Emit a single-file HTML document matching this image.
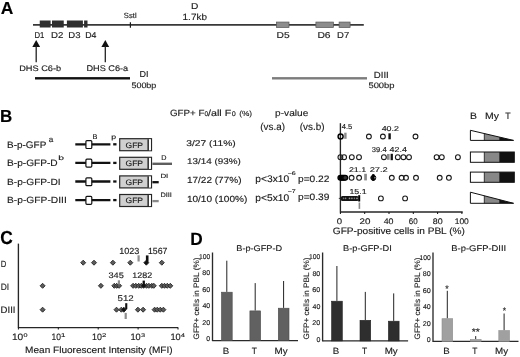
<!DOCTYPE html>
<html><head><meta charset="utf-8"><style>
html,body{margin:0;padding:0;background:#fff;width:520px;height:357px;overflow:hidden}
svg{display:block;will-change:transform}
text{font-family:"Liberation Sans",sans-serif;text-rendering:geometricPrecision}
</style></head><body>
<svg width="520" height="357" viewBox="0 0 520 357">
<rect width="520" height="357" fill="#fff"/>
<text transform="translate(1.10,13.80) scale(1.006,1)" x="-0.27" y="0" font-size="17.35" fill="#000" stroke="#000" stroke-width="0.14" font-weight="bold">A</text>
<line x1="33.00" y1="24.85" x2="363.80" y2="24.85" stroke="#383838" stroke-width="1.8" />
<rect x="39.75" y="20.50" width="10.85" height="7.00" fill="#2e2e2e" />
<rect x="52.00" y="20.50" width="11.75" height="7.00" fill="#2e2e2e" />
<rect x="66.90" y="20.50" width="16.00" height="7.00" fill="#2e2e2e" />
<rect x="84.10" y="20.50" width="3.40" height="7.00" fill="#2e2e2e" />
<line x1="130.40" y1="22.20" x2="130.40" y2="27.80" stroke="#1a1a1a" stroke-width="1.2" />
<rect x="276.40" y="22.05" width="12.60" height="5.50" fill="#8c8c8c" stroke="#555" stroke-width="0.7" />
<rect x="315.90" y="22.05" width="17.50" height="5.50" fill="#8c8c8c" stroke="#555" stroke-width="0.7" />
<rect x="339.10" y="22.05" width="11.00" height="5.50" fill="#8c8c8c" stroke="#555" stroke-width="0.7" />
<text transform="translate(35.10,38.00) scale(0.909,1)" x="-0.67" y="0" font-size="8.53" fill="#1a1a1a" stroke="#1a1a1a" stroke-width="0.14">D1</text>
<text transform="translate(51.80,38.00) scale(1.132,1)" x="-0.67" y="0" font-size="8.53" fill="#1a1a1a" stroke="#1a1a1a" stroke-width="0.14">D2</text>
<text transform="translate(69.00,38.00) scale(1.122,1)" x="-0.67" y="0" font-size="8.53" fill="#1a1a1a" stroke="#1a1a1a" stroke-width="0.14">D3</text>
<text transform="translate(85.90,38.00) scale(1.027,1)" x="-0.67" y="0" font-size="8.53" fill="#1a1a1a" stroke="#1a1a1a" stroke-width="0.14">D4</text>
<text transform="translate(277.40,38.00) scale(1.203,1)" x="-0.67" y="0" font-size="8.53" fill="#1a1a1a" stroke="#1a1a1a" stroke-width="0.14">D5</text>
<text transform="translate(318.20,38.00) scale(1.213,1)" x="-0.67" y="0" font-size="8.53" fill="#1a1a1a" stroke="#1a1a1a" stroke-width="0.14">D6</text>
<text transform="translate(337.80,38.00) scale(1.112,1)" x="-0.67" y="0" font-size="8.53" fill="#1a1a1a" stroke="#1a1a1a" stroke-width="0.14">D7</text>
<text transform="translate(124.10,17.50) scale(1.011,1)" x="-0.24" y="0" font-size="7.54" fill="#1a1a1a" stroke="#1a1a1a" stroke-width="0.14">SstI</text>
<text transform="translate(191.80,8.60) scale(1.192,1)" x="-0.67" y="0" font-size="8.53" fill="#1a1a1a" stroke="#1a1a1a" stroke-width="0.14">D</text>
<text transform="translate(183.20,19.60) scale(1.106,1)" x="-0.56" y="0" font-size="8.99" fill="#1a1a1a" stroke="#1a1a1a" stroke-width="0.14">1.7kb</text>
<path d="M36.2 40.0 L32.300000000000004 46.9 L40.1 46.9 Z" fill="#111" />
<line x1="36.20" y1="46.00" x2="36.20" y2="62.20" stroke="#222" stroke-width="1.3" />
<path d="M105.3 40.0 L101.39999999999999 46.9 L109.2 46.9 Z" fill="#111" />
<line x1="105.30" y1="46.00" x2="105.30" y2="62.20" stroke="#222" stroke-width="1.3" />
<text transform="translate(19.90,70.90) scale(1.150,1)" x="-0.63" y="0" font-size="8.03" fill="#1a1a1a" stroke="#1a1a1a" stroke-width="0.14">DHS C6-b</text>
<text transform="translate(87.10,70.90) scale(1.111,1)" x="-0.64" y="0" font-size="8.25" fill="#1a1a1a" stroke="#1a1a1a" stroke-width="0.14">DHS C6-a</text>
<rect x="35.00" y="77.10" width="95.00" height="2.40" fill="#111" />
<rect x="272.00" y="77.10" width="95.00" height="2.40" fill="#7c7c7c" />
<text transform="translate(140.10,77.40) scale(1.040,1)" x="-0.68" y="0" font-size="8.68" fill="#1a1a1a" stroke="#1a1a1a" stroke-width="0.14">DI</text>
<text transform="translate(131.70,88.20) scale(1.136,1)" x="-0.25" y="0" font-size="7.90" fill="#1a1a1a" stroke="#1a1a1a" stroke-width="0.14">500bp</text>
<text transform="translate(374.50,77.50) scale(1.095,1)" x="-0.69" y="0" font-size="8.82" fill="#1a1a1a" stroke="#1a1a1a" stroke-width="0.14">DIII</text>
<text transform="translate(368.70,88.20) scale(1.192,1)" x="-0.25" y="0" font-size="7.90" fill="#1a1a1a" stroke="#1a1a1a" stroke-width="0.14">500bp</text>
<text transform="translate(1.10,121.60) scale(0.970,1)" x="-1.09" y="0" font-size="17.49" fill="#000" stroke="#000" stroke-width="0.14" font-weight="bold">B</text>
<text transform="translate(170.40,116.00) scale(1.074,1)" x="-0.43" y="0" font-size="9.10" fill="#1a1a1a" stroke="#1a1a1a" stroke-width="0.14">GFP+ F</text>
<text transform="translate(204.60,116.00) scale(0.987,1)" x="-0.21" y="0" font-size="6.68" fill="#1a1a1a" stroke="#1a1a1a" stroke-width="0.14">0</text>
<text transform="translate(208.10,116.00) scale(1.207,1)" x="0.00" y="0" font-size="8.85" fill="#1a1a1a" stroke="#1a1a1a" stroke-width="0.14">/all F</text>
<text transform="translate(231.90,116.00) scale(1.077,1)" x="-0.21" y="0" font-size="6.68" fill="#1a1a1a" stroke="#1a1a1a" stroke-width="0.14">0</text>
<text transform="translate(239.50,116.20) scale(1.130,1)" x="-0.34" y="0" font-size="7.35" fill="#1a1a1a" stroke="#1a1a1a" stroke-width="0.14">(%)</text>
<text transform="translate(275.70,116.30) scale(1.128,1)" x="-0.56" y="0" font-size="8.99" fill="#1a1a1a" stroke="#1a1a1a" stroke-width="0.14">p-value</text>
<text transform="translate(260.80,130.10) scale(0.993,1)" x="-0.47" y="0" font-size="9.94" fill="#1a1a1a" stroke="#1a1a1a" stroke-width="0.14">(vs.a)</text>
<text transform="translate(300.20,130.10) scale(1.001,1)" x="-0.47" y="0" font-size="9.94" fill="#1a1a1a" stroke="#1a1a1a" stroke-width="0.14">(vs.b)</text>
<text transform="translate(7.80,148.00) scale(1.045,1)" x="-0.74" y="0" font-size="9.53" fill="#1a1a1a" stroke="#1a1a1a" stroke-width="0.14">B-p-GFP</text>
<text transform="translate(7.80,166.10) scale(1.096,1)" x="-0.72" y="0" font-size="9.24" fill="#1a1a1a" stroke="#1a1a1a" stroke-width="0.14">B-p-GFP-D</text>
<text transform="translate(7.80,184.80) scale(1.118,1)" x="-0.71" y="0" font-size="9.10" fill="#1a1a1a" stroke="#1a1a1a" stroke-width="0.14">B-p-GFP-DI</text>
<text transform="translate(7.80,203.30) scale(1.127,1)" x="-0.71" y="0" font-size="9.10" fill="#1a1a1a" stroke="#1a1a1a" stroke-width="0.14">B-p-GFP-DIII</text>
<text transform="translate(49.00,141.60) scale(1.029,1)" x="-0.25" y="0" font-size="7.86" fill="#1a1a1a" stroke="#1a1a1a" stroke-width="0.14">a</text>
<text transform="translate(58.90,159.60) scale(1.621,1)" x="-0.40" y="0" font-size="6.40" fill="#1a1a1a" stroke="#1a1a1a" stroke-width="0.14">b</text>
<text transform="translate(186.60,146.20) scale(1.236,1)" x="-0.26" y="0" font-size="8.31" fill="#1a1a1a" stroke="#1a1a1a" stroke-width="0.14">3/27 (11%)</text>
<text transform="translate(187.50,164.20) scale(1.192,1)" x="-0.52" y="0" font-size="8.31" fill="#1a1a1a" stroke="#1a1a1a" stroke-width="0.14">13/14 (93%)</text>
<text transform="translate(187.50,182.90) scale(1.133,1)" x="-0.55" y="0" font-size="8.85" fill="#1a1a1a" stroke="#1a1a1a" stroke-width="0.14">17/22 (77%)</text>
<text transform="translate(187.50,201.60) scale(1.138,1)" x="-0.55" y="0" font-size="8.85" fill="#1a1a1a" stroke="#1a1a1a" stroke-width="0.14">10/10 (100%)</text>
<text transform="translate(256.00,182.40) scale(1.056,1)" x="-0.60" y="0" font-size="9.67" fill="#1a1a1a" stroke="#1a1a1a" stroke-width="0.14">p&lt;3x10</text>
<text transform="translate(298.60,182.20) scale(1.086,1)" x="-0.59" y="0" font-size="9.39" fill="#1a1a1a" stroke="#1a1a1a" stroke-width="0.14">p=0.22</text>
<text transform="translate(256.00,200.60) scale(1.056,1)" x="-0.60" y="0" font-size="9.67" fill="#1a1a1a" stroke="#1a1a1a" stroke-width="0.14">p&lt;5x10</text>
<text transform="translate(298.60,200.40) scale(1.086,1)" x="-0.59" y="0" font-size="9.39" fill="#1a1a1a" stroke="#1a1a1a" stroke-width="0.14">p=0.39</text>
<text transform="translate(288.00,174.72) scale(1.365,1)" x="-0.24" y="0" font-size="5.15" fill="#1a1a1a" stroke="#1a1a1a" stroke-width="0.14">−6</text>
<text transform="translate(288.00,193.10) scale(1.301,1)" x="-0.25" y="0" font-size="5.40" fill="#1a1a1a" stroke="#1a1a1a" stroke-width="0.14">−7</text>
<line x1="75.30" y1="144.30" x2="110.40" y2="144.30" stroke="#111" stroke-width="2.3" />
<rect x="85.90" y="140.60" width="5.90" height="7.90" fill="#fff" stroke="#111" stroke-width="1.2" rx="1"/>
<line x1="113.20" y1="144.30" x2="116.50" y2="144.30" stroke="#111" stroke-width="2.3" />
<rect x="119.70" y="138.70" width="31.80" height="12.00" fill="#d0d0d0" stroke="#262626" stroke-width="1.2" />
<rect x="147.50" y="139.30" width="1.40" height="11.00" fill="#111" />
<rect x="148.90" y="139.30" width="2.00" height="11.00" fill="#fff" />
<line x1="75.30" y1="162.90" x2="110.40" y2="162.90" stroke="#111" stroke-width="2.3" />
<rect x="85.90" y="159.20" width="5.90" height="7.90" fill="#fff" stroke="#111" stroke-width="1.2" rx="1"/>
<line x1="113.20" y1="162.90" x2="116.50" y2="162.90" stroke="#111" stroke-width="2.3" />
<rect x="119.70" y="157.30" width="31.80" height="12.00" fill="#d0d0d0" stroke="#262626" stroke-width="1.2" />
<rect x="147.50" y="157.90" width="1.40" height="11.00" fill="#111" />
<rect x="148.90" y="157.90" width="2.00" height="11.00" fill="#fff" />
<line x1="75.30" y1="181.50" x2="110.40" y2="181.50" stroke="#111" stroke-width="2.3" />
<rect x="85.90" y="177.80" width="5.90" height="7.90" fill="#fff" stroke="#111" stroke-width="1.2" rx="1"/>
<line x1="113.20" y1="181.50" x2="116.50" y2="181.50" stroke="#111" stroke-width="2.3" />
<rect x="119.70" y="175.90" width="31.80" height="12.00" fill="#d0d0d0" stroke="#262626" stroke-width="1.2" />
<rect x="147.50" y="176.50" width="1.40" height="11.00" fill="#111" />
<rect x="148.90" y="176.50" width="2.00" height="11.00" fill="#fff" />
<line x1="75.30" y1="200.10" x2="110.40" y2="200.10" stroke="#111" stroke-width="2.3" />
<rect x="85.90" y="196.40" width="5.90" height="7.90" fill="#fff" stroke="#111" stroke-width="1.2" rx="1"/>
<line x1="113.20" y1="200.10" x2="116.50" y2="200.10" stroke="#111" stroke-width="2.3" />
<rect x="119.70" y="194.50" width="31.80" height="12.00" fill="#d0d0d0" stroke="#262626" stroke-width="1.2" />
<rect x="147.50" y="195.10" width="1.40" height="11.00" fill="#111" />
<rect x="148.90" y="195.10" width="2.00" height="11.00" fill="#fff" />
<text transform="translate(125.90,147.60) scale(1.072,1)" x="-0.37" y="0" font-size="7.96" fill="#1a1a1a" stroke="#1a1a1a" stroke-width="0.14">GFP</text>
<text transform="translate(125.90,166.20) scale(1.072,1)" x="-0.37" y="0" font-size="7.96" fill="#1a1a1a" stroke="#1a1a1a" stroke-width="0.14">GFP</text>
<text transform="translate(125.90,184.80) scale(1.072,1)" x="-0.37" y="0" font-size="7.96" fill="#1a1a1a" stroke="#1a1a1a" stroke-width="0.14">GFP</text>
<text transform="translate(125.90,203.40) scale(1.072,1)" x="-0.37" y="0" font-size="7.96" fill="#1a1a1a" stroke="#1a1a1a" stroke-width="0.14">GFP</text>
<text transform="translate(93.00,138.80) scale(1.050,1)" x="-0.54" y="0" font-size="6.97" fill="#1a1a1a" stroke="#1a1a1a" stroke-width="0.14">B</text>
<text transform="translate(111.90,139.40) scale(1.379,1)" x="-0.40" y="0" font-size="6.40" fill="#1a1a1a" stroke="#1a1a1a" stroke-width="0.14">p</text>
<line x1="152.40" y1="163.80" x2="172.00" y2="163.80" stroke="#5e5e5e" stroke-width="2.4" />
<text transform="translate(161.80,159.70) scale(1.036,1)" x="-0.54" y="0" font-size="6.97" fill="#1a1a1a" stroke="#1a1a1a" stroke-width="0.14">D</text>
<line x1="152.40" y1="182.20" x2="158.70" y2="182.20" stroke="#111" stroke-width="2.3" />
<text transform="translate(161.00,178.00) scale(1.268,1)" x="-0.49" y="0" font-size="6.26" fill="#1a1a1a" stroke="#1a1a1a" stroke-width="0.14">DI</text>
<line x1="152.40" y1="201.10" x2="158.70" y2="201.10" stroke="#8a8a8a" stroke-width="2.3" />
<text transform="translate(161.00,196.80) scale(1.149,1)" x="-0.50" y="0" font-size="6.40" fill="#1a1a1a" stroke="#1a1a1a" stroke-width="0.14">DIII</text>
<line x1="340.40" y1="123.20" x2="340.40" y2="212.50" stroke="#262626" stroke-width="1.35" />
<line x1="340.40" y1="212.00" x2="462.70" y2="212.00" stroke="#262626" stroke-width="1.35" />
<line x1="340.40" y1="212.00" x2="340.40" y2="214.00" stroke="#111" stroke-width="1" />
<text transform="translate(337.00,223.60) scale(1.184,1)" x="-0.25" y="0" font-size="8.11" fill="#1a1a1a" stroke="#1a1a1a" stroke-width="0.14">0</text>
<line x1="364.70" y1="212.00" x2="364.70" y2="214.00" stroke="#111" stroke-width="1" />
<text transform="translate(359.90,223.60) scale(1.209,1)" x="-0.38" y="0" font-size="8.11" fill="#1a1a1a" stroke="#1a1a1a" stroke-width="0.14">20</text>
<line x1="389.00" y1="212.00" x2="389.00" y2="214.00" stroke="#111" stroke-width="1" />
<text transform="translate(383.80,223.60) scale(1.093,1)" x="-0.13" y="0" font-size="8.11" fill="#1a1a1a" stroke="#1a1a1a" stroke-width="0.14">40</text>
<line x1="413.30" y1="212.00" x2="413.30" y2="214.00" stroke="#111" stroke-width="1" />
<text transform="translate(409.20,223.60) scale(0.984,1)" x="-0.38" y="0" font-size="8.11" fill="#1a1a1a" stroke="#1a1a1a" stroke-width="0.14">60</text>
<line x1="437.60" y1="212.00" x2="437.60" y2="214.00" stroke="#111" stroke-width="1" />
<text transform="translate(433.00,223.60) scale(1.098,1)" x="-0.25" y="0" font-size="8.11" fill="#1a1a1a" stroke="#1a1a1a" stroke-width="0.14">80</text>
<line x1="461.90" y1="212.00" x2="461.90" y2="214.00" stroke="#111" stroke-width="1" />
<text transform="translate(455.20,223.60) scale(1.045,1)" x="-0.51" y="0" font-size="8.11" fill="#1a1a1a" stroke="#1a1a1a" stroke-width="0.14">100</text>
<text transform="translate(333.30,233.50) scale(1.077,1)" x="-0.44" y="0" font-size="9.40" fill="#1a1a1a" stroke="#1a1a1a" stroke-width="0.14">GFP-positive cells in PBL (%)</text>
<circle cx="368.90" cy="136.50" r="2.4" fill="none" stroke="#1a1a1a" stroke-width="1.1"/>
<circle cx="382.90" cy="136.50" r="2.4" fill="none" stroke="#1a1a1a" stroke-width="1.1"/>
<circle cx="415.50" cy="136.50" r="2.4" fill="none" stroke="#1a1a1a" stroke-width="1.1"/>
<circle cx="340.60" cy="136.50" r="2.5" fill="none" stroke="#000" stroke-width="1.45"/>
<rect x="344.20" y="132.70" width="2.40" height="6.10" fill="#8a8a8a" />
<rect x="388.40" y="133.30" width="2.40" height="6.00" fill="#111" />
<text transform="translate(341.80,129.10) scale(1.044,1)" x="-0.11" y="0" font-size="7.25" fill="#1a1a1a" stroke="#1a1a1a" stroke-width="0.14">4.5</text>
<text transform="translate(381.80,131.20) scale(1.250,1)" x="-0.11" y="0" font-size="7.11" fill="#1a1a1a" stroke="#1a1a1a" stroke-width="0.14">40.2</text>
<circle cx="340.40" cy="157.20" r="2.4" fill="none" stroke="#1a1a1a" stroke-width="1.1"/>
<circle cx="344.10" cy="157.20" r="2.4" fill="none" stroke="#1a1a1a" stroke-width="1.1"/>
<circle cx="351.80" cy="157.20" r="2.4" fill="none" stroke="#1a1a1a" stroke-width="1.1"/>
<circle cx="359.00" cy="157.20" r="2.4" fill="none" stroke="#1a1a1a" stroke-width="1.1"/>
<circle cx="383.90" cy="157.20" r="2.4" fill="none" stroke="#1a1a1a" stroke-width="1.1"/>
<circle cx="397.80" cy="157.20" r="2.4" fill="none" stroke="#1a1a1a" stroke-width="1.1"/>
<circle cx="403.40" cy="157.20" r="2.4" fill="none" stroke="#1a1a1a" stroke-width="1.1"/>
<circle cx="409.00" cy="157.20" r="2.4" fill="none" stroke="#1a1a1a" stroke-width="1.1"/>
<circle cx="436.60" cy="157.20" r="2.4" fill="none" stroke="#1a1a1a" stroke-width="1.1"/>
<circle cx="441.80" cy="157.20" r="2.4" fill="none" stroke="#1a1a1a" stroke-width="1.1"/>
<circle cx="457.90" cy="157.20" r="2.4" fill="none" stroke="#1a1a1a" stroke-width="1.1"/>
<rect x="387.00" y="154.00" width="2.60" height="5.80" fill="#8a8a8a" />
<rect x="390.60" y="153.80" width="2.30" height="6.40" fill="#111" />
<text transform="translate(372.10,151.60) scale(1.064,1)" x="-0.22" y="0" font-size="7.11" fill="#1a1a1a" stroke="#1a1a1a" stroke-width="0.14">39.4</text>
<text transform="translate(389.70,151.60) scale(1.254,1)" x="-0.11" y="0" font-size="7.11" fill="#1a1a1a" stroke="#1a1a1a" stroke-width="0.14">42.4</text>
<circle cx="340.40" cy="177.80" r="2.4" fill="#333" stroke="#000" stroke-width="1.3"/>
<circle cx="341.60" cy="177.80" r="2.4" fill="#333" stroke="#000" stroke-width="1.3"/>
<circle cx="342.80" cy="177.80" r="2.4" fill="#333" stroke="#000" stroke-width="1.3"/>
<circle cx="344.00" cy="177.80" r="2.4" fill="#333" stroke="#000" stroke-width="1.3"/>
<circle cx="345.20" cy="177.80" r="2.4" fill="#333" stroke="#000" stroke-width="1.3"/>
<circle cx="351.60" cy="177.80" r="2.4" fill="none" stroke="#1a1a1a" stroke-width="1.1"/>
<circle cx="359.10" cy="177.80" r="2.4" fill="none" stroke="#1a1a1a" stroke-width="1.1"/>
<circle cx="391.80" cy="177.80" r="2.4" fill="none" stroke="#1a1a1a" stroke-width="1.1"/>
<circle cx="401.60" cy="177.80" r="2.4" fill="none" stroke="#1a1a1a" stroke-width="1.1"/>
<circle cx="406.00" cy="177.80" r="2.4" fill="none" stroke="#1a1a1a" stroke-width="1.1"/>
<circle cx="416.00" cy="177.80" r="2.4" fill="none" stroke="#1a1a1a" stroke-width="1.1"/>
<circle cx="439.70" cy="177.80" r="2.4" fill="none" stroke="#1a1a1a" stroke-width="1.1"/>
<circle cx="448.90" cy="177.80" r="2.4" fill="none" stroke="#1a1a1a" stroke-width="1.1"/>
<rect x="364.20" y="173.80" width="2.70" height="6.60" fill="#8a8a8a" />
<circle cx="373.30" cy="177.80" r="2.5" fill="#1a1a1a" stroke="#000" stroke-width="1.0"/>
<rect x="372.20" y="174.10" width="2.20" height="6.70" fill="#000" />
<circle cx="374.90" cy="177.80" r="0.8" fill="#999" stroke="none" stroke-width="0"/>
<text transform="translate(349.30,172.30) scale(1.274,1)" x="-0.33" y="0" font-size="6.97" fill="#1a1a1a" stroke="#1a1a1a" stroke-width="0.14">21.1</text>
<text transform="translate(370.10,172.30) scale(1.335,1)" x="-0.33" y="0" font-size="6.97" fill="#1a1a1a" stroke="#1a1a1a" stroke-width="0.14">27.2</text>
<rect x="340.90" y="196.00" width="17.60" height="4.90" fill="#151515" rx="1.5"/>
<circle cx="343.60" cy="198.40" r="0.8" fill="#777" stroke="none" stroke-width="0"/>
<circle cx="345.60" cy="198.40" r="0.8" fill="#888" stroke="none" stroke-width="0"/>
<circle cx="349.50" cy="198.40" r="0.8" fill="#999" stroke="none" stroke-width="0"/>
<circle cx="351.90" cy="198.40" r="0.8" fill="#999" stroke="none" stroke-width="0"/>
<circle cx="354.40" cy="198.40" r="0.8" fill="#777" stroke="none" stroke-width="0"/>
<circle cx="357.00" cy="198.40" r="0.8" fill="#aaa" stroke="none" stroke-width="0"/>
<rect x="358.20" y="195.20" width="2.00" height="6.30" fill="#000" />
<rect x="358.60" y="202.50" width="1.60" height="6.40" fill="#8a8a8a" />
<circle cx="380.90" cy="198.40" r="2.4" fill="none" stroke="#1a1a1a" stroke-width="1.1"/>
<circle cx="405.10" cy="198.40" r="2.4" fill="none" stroke="#1a1a1a" stroke-width="1.1"/>
<text transform="translate(350.00,193.60) scale(1.212,1)" x="-0.45" y="0" font-size="7.25" fill="#1a1a1a" stroke="#1a1a1a" stroke-width="0.14">15.1</text>
<line x1="338.80" y1="198.40" x2="340.40" y2="198.40" stroke="#111" stroke-width="0.8" />
<text transform="translate(470.90,119.20) scale(1.127,1)" x="-0.72" y="0" font-size="9.24" fill="#1a1a1a" stroke="#1a1a1a" stroke-width="0.14">B</text>
<text transform="translate(485.80,119.20) scale(1.129,1)" x="-0.72" y="0" font-size="9.24" fill="#1a1a1a" stroke="#1a1a1a" stroke-width="0.14">My</text>
<text transform="translate(505.40,119.20) scale(0.954,1)" x="-0.14" y="0" font-size="9.24" fill="#1a1a1a" stroke="#1a1a1a" stroke-width="0.14">T</text>
<path d="M470.4 130.3 L484.3 133.55 L484.3 140.4 L470.4 140.4 Z" fill="#fff" />
<path d="M484.3 133.55 L499.2 137.03 L499.2 140.4 L484.3 140.4 Z" fill="#888" />
<path d="M499.2 137.03 L513.6 140.4 L499.2 140.4 Z" fill="#111" />
<path d="M470.4 130.3 L513.6 140.4 L470.4 140.4 Z" fill="none" stroke="#111" stroke-width="1.0" />
<line x1="484.30" y1="133.55" x2="484.30" y2="140.40" stroke="#111" stroke-width="0.8" />
<rect x="470.40" y="152.00" width="13.90" height="10.30" fill="#fff" />
<rect x="484.30" y="152.00" width="14.90" height="10.30" fill="#888" />
<rect x="499.20" y="152.00" width="15.10" height="10.30" fill="#111" />
<rect x="470.40" y="152.00" width="43.90" height="10.30" fill="none" stroke="#111" stroke-width="1.0" />
<line x1="484.30" y1="152.00" x2="484.30" y2="162.30" stroke="#111" stroke-width="0.8" />
<rect x="470.40" y="172.10" width="13.90" height="10.20" fill="#fff" />
<rect x="484.30" y="172.10" width="14.90" height="10.20" fill="#888" />
<rect x="499.20" y="172.10" width="15.10" height="10.20" fill="#111" />
<rect x="470.40" y="172.10" width="43.90" height="10.20" fill="none" stroke="#111" stroke-width="1.0" />
<line x1="484.30" y1="172.10" x2="484.30" y2="182.30" stroke="#111" stroke-width="0.8" />
<path d="M470.4 192.2 L484.3 195.77 L484.3 203.3 L470.4 203.3 Z" fill="#fff" />
<path d="M484.3 195.77 L499.2 199.60 L499.2 203.3 L484.3 203.3 Z" fill="#888" />
<path d="M499.2 199.60 L513.6 203.3 L499.2 203.3 Z" fill="#111" />
<path d="M470.4 192.2 L513.6 203.3 L470.4 203.3 Z" fill="none" stroke="#111" stroke-width="1.0" />
<line x1="484.30" y1="195.77" x2="484.30" y2="203.30" stroke="#111" stroke-width="0.8" />
<text transform="translate(0.90,244.40) scale(0.928,1)" x="-0.59" y="0" font-size="18.77" fill="#000" stroke="#000" stroke-width="0.14" font-weight="bold">C</text>
<line x1="18.40" y1="243.60" x2="18.40" y2="328.00" stroke="#262626" stroke-width="1.35" />
<line x1="18.40" y1="327.60" x2="178.20" y2="327.60" stroke="#262626" stroke-width="1.35" />
<line x1="18.40" y1="327.60" x2="18.40" y2="329.50" stroke="#111" stroke-width="1" />
<line x1="58.30" y1="327.60" x2="58.30" y2="329.50" stroke="#111" stroke-width="1" />
<line x1="98.20" y1="327.60" x2="98.20" y2="329.50" stroke="#111" stroke-width="1" />
<line x1="138.10" y1="327.60" x2="138.10" y2="329.50" stroke="#111" stroke-width="1" />
<line x1="178.00" y1="327.60" x2="178.00" y2="329.50" stroke="#111" stroke-width="1" />
<text transform="translate(12.50,340.40) scale(1.081,1)" x="-0.59" y="0" font-size="9.39" fill="#1a1a1a" stroke="#1a1a1a" stroke-width="0.14">10</text>
<text transform="translate(23.60,337.20) scale(1.332,1)" x="-0.17" y="0" font-size="5.40" fill="#1a1a1a" stroke="#1a1a1a" stroke-width="0.14">0</text>
<text transform="translate(52.10,340.40) scale(0.904,1)" x="-0.59" y="0" font-size="9.39" fill="#1a1a1a" stroke="#1a1a1a" stroke-width="0.14">10</text>
<text transform="translate(61.50,337.20) scale(1.470,1)" x="-0.34" y="0" font-size="5.40" fill="#1a1a1a" stroke="#1a1a1a" stroke-width="0.14">1</text>
<text transform="translate(92.50,340.40) scale(0.946,1)" x="-0.59" y="0" font-size="9.39" fill="#1a1a1a" stroke="#1a1a1a" stroke-width="0.14">10</text>
<text transform="translate(102.30,337.20) scale(1.421,1)" x="-0.25" y="0" font-size="5.40" fill="#1a1a1a" stroke="#1a1a1a" stroke-width="0.14">2</text>
<text transform="translate(131.00,340.40) scale(0.987,1)" x="-0.59" y="0" font-size="9.39" fill="#1a1a1a" stroke="#1a1a1a" stroke-width="0.14">10</text>
<text transform="translate(141.20,337.20) scale(1.375,1)" x="-0.17" y="0" font-size="5.40" fill="#1a1a1a" stroke="#1a1a1a" stroke-width="0.14">3</text>
<text transform="translate(171.00,340.40) scale(0.987,1)" x="-0.59" y="0" font-size="9.39" fill="#1a1a1a" stroke="#1a1a1a" stroke-width="0.14">10</text>
<text transform="translate(181.20,337.20) scale(1.292,1)" x="-0.08" y="0" font-size="5.40" fill="#1a1a1a" stroke="#1a1a1a" stroke-width="0.14">4</text>
<text transform="translate(25.90,353.00) scale(1.087,1)" x="-0.72" y="0" font-size="9.26" fill="#1a1a1a" stroke="#1a1a1a" stroke-width="0.14">Mean Fluorescent Intensity (MFI)</text>
<text transform="translate(1.30,267.20) scale(0.847,1)" x="-0.71" y="0" font-size="9.10" fill="#1a1a1a" stroke="#1a1a1a" stroke-width="0.14">D</text>
<text transform="translate(1.30,289.90) scale(0.911,1)" x="-0.72" y="0" font-size="9.24" fill="#1a1a1a" stroke="#1a1a1a" stroke-width="0.14">DI</text>
<text transform="translate(1.30,313.40) scale(1.021,1)" x="-0.73" y="0" font-size="9.39" fill="#1a1a1a" stroke="#1a1a1a" stroke-width="0.14">DIII</text>
<path d="M83.20 260.20 L85.70 262.70 L83.20 265.20 L80.70 262.70 Z" fill="#5c5c5c" stroke="#252525" stroke-width="0.9" stroke-linejoin="round"/>
<path d="M94.00 260.20 L96.50 262.70 L94.00 265.20 L91.50 262.70 Z" fill="#5c5c5c" stroke="#252525" stroke-width="0.9" stroke-linejoin="round"/>
<path d="M112.90 260.20 L115.40 262.70 L112.90 265.20 L110.40 262.70 Z" fill="#5c5c5c" stroke="#252525" stroke-width="0.9" stroke-linejoin="round"/>
<path d="M130.30 260.20 L132.80 262.70 L130.30 265.20 L127.80 262.70 Z" fill="#5c5c5c" stroke="#252525" stroke-width="0.9" stroke-linejoin="round"/>
<path d="M161.80 260.20 L164.30 262.70 L161.80 265.20 L159.30 262.70 Z" fill="#5c5c5c" stroke="#252525" stroke-width="0.9" stroke-linejoin="round"/>
<rect x="137.50" y="255.30" width="2.20" height="6.20" fill="#8e8e8e" />
<path d="M146.30 260.20 L148.80 262.70 L146.30 265.20 L143.80 262.70 Z" fill="#111" stroke="#252525" stroke-width="0.9" stroke-linejoin="round"/>
<rect x="145.90" y="255.40" width="2.60" height="6.50" fill="#111" />
<text transform="translate(119.70,253.60) scale(1.026,1)" x="-0.55" y="0" font-size="8.82" fill="#1a1a1a" stroke="#1a1a1a" stroke-width="0.14">1023</text>
<text transform="translate(148.50,253.60) scale(0.994,1)" x="-0.55" y="0" font-size="8.82" fill="#1a1a1a" stroke="#1a1a1a" stroke-width="0.14">1567</text>
<path d="M42.60 283.30 L45.10 285.80 L42.60 288.30 L40.10 285.80 Z" fill="#5c5c5c" stroke="#252525" stroke-width="0.9" stroke-linejoin="round"/>
<path d="M100.90 283.30 L103.40 285.80 L100.90 288.30 L98.40 285.80 Z" fill="#5c5c5c" stroke="#252525" stroke-width="0.9" stroke-linejoin="round"/>
<path d="M114.30 283.30 L116.80 285.80 L114.30 288.30 L111.80 285.80 Z" fill="#5c5c5c" stroke="#252525" stroke-width="0.9" stroke-linejoin="round"/>
<path d="M116.70 283.30 L119.20 285.80 L116.70 288.30 L114.20 285.80 Z" fill="#5c5c5c" stroke="#252525" stroke-width="0.9" stroke-linejoin="round"/>
<path d="M119.10 283.30 L121.60 285.80 L119.10 288.30 L116.60 285.80 Z" fill="#5c5c5c" stroke="#252525" stroke-width="0.9" stroke-linejoin="round"/>
<path d="M133.10 283.30 L135.60 285.80 L133.10 288.30 L130.60 285.80 Z" fill="#5c5c5c" stroke="#252525" stroke-width="0.9" stroke-linejoin="round"/>
<path d="M135.80 283.30 L138.30 285.80 L135.80 288.30 L133.30 285.80 Z" fill="#5c5c5c" stroke="#252525" stroke-width="0.9" stroke-linejoin="round"/>
<path d="M138.70 283.30 L141.20 285.80 L138.70 288.30 L136.20 285.80 Z" fill="#5c5c5c" stroke="#252525" stroke-width="0.9" stroke-linejoin="round"/>
<path d="M141.30 283.30 L143.80 285.80 L141.30 288.30 L138.80 285.80 Z" fill="#5c5c5c" stroke="#252525" stroke-width="0.9" stroke-linejoin="round"/>
<path d="M146.50 283.30 L149.00 285.80 L146.50 288.30 L144.00 285.80 Z" fill="#5c5c5c" stroke="#252525" stroke-width="0.9" stroke-linejoin="round"/>
<path d="M148.90 283.30 L151.40 285.80 L148.90 288.30 L146.40 285.80 Z" fill="#5c5c5c" stroke="#252525" stroke-width="0.9" stroke-linejoin="round"/>
<path d="M151.80 283.30 L154.30 285.80 L151.80 288.30 L149.30 285.80 Z" fill="#5c5c5c" stroke="#252525" stroke-width="0.9" stroke-linejoin="round"/>
<path d="M153.80 283.30 L156.30 285.80 L153.80 288.30 L151.30 285.80 Z" fill="#5c5c5c" stroke="#252525" stroke-width="0.9" stroke-linejoin="round"/>
<path d="M161.80 283.30 L164.30 285.80 L161.80 288.30 L159.30 285.80 Z" fill="#5c5c5c" stroke="#252525" stroke-width="0.9" stroke-linejoin="round"/>
<path d="M164.50 283.30 L167.00 285.80 L164.50 288.30 L162.00 285.80 Z" fill="#5c5c5c" stroke="#252525" stroke-width="0.9" stroke-linejoin="round"/>
<path d="M167.30 283.30 L169.80 285.80 L167.30 288.30 L164.80 285.80 Z" fill="#5c5c5c" stroke="#252525" stroke-width="0.9" stroke-linejoin="round"/>
<path d="M170.30 283.30 L172.80 285.80 L170.30 288.30 L167.80 285.80 Z" fill="#5c5c5c" stroke="#252525" stroke-width="0.9" stroke-linejoin="round"/>
<rect x="117.80" y="280.30" width="2.20" height="4.20" fill="#8e8e8e" />
<path d="M143.60 283.30 L146.10 285.80 L143.60 288.30 L141.10 285.80 Z" fill="#111" stroke="#252525" stroke-width="0.9" stroke-linejoin="round"/>
<rect x="142.60" y="280.60" width="2.30" height="4.60" fill="#111" />
<text transform="translate(108.80,278.00) scale(1.156,1)" x="-0.25" y="0" font-size="7.96" fill="#1a1a1a" stroke="#1a1a1a" stroke-width="0.14">345</text>
<text transform="translate(132.80,278.00) scale(1.124,1)" x="-0.50" y="0" font-size="7.96" fill="#1a1a1a" stroke="#1a1a1a" stroke-width="0.14">1282</text>
<path d="M42.60 307.20 L45.10 309.70 L42.60 312.20 L40.10 309.70 Z" fill="#5c5c5c" stroke="#252525" stroke-width="0.9" stroke-linejoin="round"/>
<path d="M116.50 307.20 L119.00 309.70 L116.50 312.20 L114.00 309.70 Z" fill="#5c5c5c" stroke="#252525" stroke-width="0.9" stroke-linejoin="round"/>
<path d="M121.30 307.20 L123.80 309.70 L121.30 312.20 L118.80 309.70 Z" fill="#5c5c5c" stroke="#252525" stroke-width="0.9" stroke-linejoin="round"/>
<path d="M137.90 307.20 L140.40 309.70 L137.90 312.20 L135.40 309.70 Z" fill="#5c5c5c" stroke="#252525" stroke-width="0.9" stroke-linejoin="round"/>
<path d="M143.10 307.20 L145.60 309.70 L143.10 312.20 L140.60 309.70 Z" fill="#5c5c5c" stroke="#252525" stroke-width="0.9" stroke-linejoin="round"/>
<path d="M154.60 307.20 L157.10 309.70 L154.60 312.20 L152.10 309.70 Z" fill="#5c5c5c" stroke="#252525" stroke-width="0.9" stroke-linejoin="round"/>
<path d="M157.30 307.20 L159.80 309.70 L157.30 312.20 L154.80 309.70 Z" fill="#5c5c5c" stroke="#252525" stroke-width="0.9" stroke-linejoin="round"/>
<path d="M160.30 307.20 L162.80 309.70 L160.30 312.20 L157.80 309.70 Z" fill="#5c5c5c" stroke="#252525" stroke-width="0.9" stroke-linejoin="round"/>
<path d="M163.40 307.20 L165.90 309.70 L163.40 312.20 L160.90 309.70 Z" fill="#5c5c5c" stroke="#252525" stroke-width="0.9" stroke-linejoin="round"/>
<path d="M123.80 307.20 L126.30 309.70 L123.80 312.20 L121.30 309.70 Z" fill="#111" stroke="#252525" stroke-width="0.9" stroke-linejoin="round"/>
<rect x="125.20" y="303.20" width="2.10" height="6.00" fill="#111" />
<rect x="124.60" y="312.90" width="2.20" height="6.10" fill="#8e8e8e" />
<text transform="translate(117.80,301.30) scale(1.177,1)" x="-0.26" y="0" font-size="8.25" fill="#1a1a1a" stroke="#1a1a1a" stroke-width="0.14">512</text>
<text transform="translate(191.40,244.60) scale(0.972,1)" x="-1.11" y="0" font-size="17.78" fill="#000" stroke="#000" stroke-width="0.14" font-weight="bold">D</text>
<line x1="212.50" y1="252.50" x2="212.50" y2="341.10" stroke="#2a2a2a" stroke-width="1.35" />
<line x1="212.50" y1="340.60" x2="298.00" y2="340.60" stroke="#2a2a2a" stroke-width="1.35" />
<text transform="translate(206.50,341.45) scale(1.004,1)" x="-0.22" y="0" font-size="6.97" fill="#1a1a1a" stroke="#1a1a1a" stroke-width="0.14">0</text>
<text transform="translate(202.50,324.95) scale(1.034,1)" x="-0.33" y="0" font-size="6.97" fill="#1a1a1a" stroke="#1a1a1a" stroke-width="0.14">20</text>
<text transform="translate(202.50,308.45) scale(1.004,1)" x="-0.11" y="0" font-size="6.97" fill="#1a1a1a" stroke="#1a1a1a" stroke-width="0.14">40</text>
<text transform="translate(202.50,291.95) scale(1.034,1)" x="-0.33" y="0" font-size="6.97" fill="#1a1a1a" stroke="#1a1a1a" stroke-width="0.14">60</text>
<text transform="translate(202.50,275.45) scale(1.019,1)" x="-0.22" y="0" font-size="6.97" fill="#1a1a1a" stroke="#1a1a1a" stroke-width="0.14">80</text>
<text transform="translate(199.30,258.95) scale(0.971,1)" x="-0.44" y="0" font-size="6.97" fill="#1a1a1a" stroke="#1a1a1a" stroke-width="0.14">100</text>
<text transform="translate(237.00,250.80) scale(1.111,1)" x="-0.64" y="0" font-size="8.25" fill="#1a1a1a" stroke="#1a1a1a" stroke-width="0.14">B-p-GFP-D</text>
<text transform="translate(199.1,298.5) rotate(-90)" font-size="7.9" text-anchor="middle" fill="#1a1a1a" stroke="#1a1a1a" stroke-width="0.12" textLength="82" lengthAdjust="spacingAndGlyphs">GFP+ cells in PBL (%)</text>
<line x1="226.80" y1="260.70" x2="226.80" y2="291.90" stroke="#222" stroke-width="1.0" />
<rect x="221.50" y="292.20" width="10.70" height="48.40" fill="#616161" stroke="#4a4a4a" stroke-width="0.6" />
<text transform="translate(223.50,353.80) scale(1.082,1)" x="-0.70" y="0" font-size="8.96" fill="#1a1a1a" stroke="#1a1a1a" stroke-width="0.14">B</text>
<line x1="255.20" y1="283.10" x2="255.20" y2="310.60" stroke="#222" stroke-width="1.0" />
<rect x="249.90" y="310.90" width="10.70" height="29.70" fill="#616161" stroke="#4a4a4a" stroke-width="0.6" />
<text transform="translate(251.90,353.80) scale(0.946,1)" x="-0.14" y="0" font-size="8.96" fill="#1a1a1a" stroke="#1a1a1a" stroke-width="0.14">T</text>
<line x1="283.60" y1="281.00" x2="283.60" y2="307.90" stroke="#222" stroke-width="1.0" />
<rect x="278.30" y="308.20" width="10.70" height="32.40" fill="#616161" stroke="#4a4a4a" stroke-width="0.6" />
<text transform="translate(275.30,353.80) scale(1.094,1)" x="-0.70" y="0" font-size="8.96" fill="#1a1a1a" stroke="#1a1a1a" stroke-width="0.14">My</text>
<line x1="322.60" y1="252.50" x2="322.60" y2="341.40" stroke="#2a2a2a" stroke-width="1.35" />
<line x1="322.60" y1="340.90" x2="408.10" y2="340.90" stroke="#2a2a2a" stroke-width="1.35" />
<text transform="translate(316.60,341.75) scale(1.004,1)" x="-0.22" y="0" font-size="6.97" fill="#1a1a1a" stroke="#1a1a1a" stroke-width="0.14">0</text>
<text transform="translate(312.60,325.25) scale(1.034,1)" x="-0.33" y="0" font-size="6.97" fill="#1a1a1a" stroke="#1a1a1a" stroke-width="0.14">20</text>
<text transform="translate(312.60,308.75) scale(1.004,1)" x="-0.11" y="0" font-size="6.97" fill="#1a1a1a" stroke="#1a1a1a" stroke-width="0.14">40</text>
<text transform="translate(312.60,292.25) scale(1.034,1)" x="-0.33" y="0" font-size="6.97" fill="#1a1a1a" stroke="#1a1a1a" stroke-width="0.14">60</text>
<text transform="translate(312.60,275.75) scale(1.019,1)" x="-0.22" y="0" font-size="6.97" fill="#1a1a1a" stroke="#1a1a1a" stroke-width="0.14">80</text>
<text transform="translate(309.40,259.25) scale(0.971,1)" x="-0.44" y="0" font-size="6.97" fill="#1a1a1a" stroke="#1a1a1a" stroke-width="0.14">100</text>
<text transform="translate(343.70,250.80) scale(1.120,1)" x="-0.64" y="0" font-size="8.25" fill="#1a1a1a" stroke="#1a1a1a" stroke-width="0.14">B-p-GFP-DI</text>
<text transform="translate(309.20000000000005,298.5) rotate(-90)" font-size="7.9" text-anchor="middle" fill="#1a1a1a" stroke="#1a1a1a" stroke-width="0.12" textLength="82" lengthAdjust="spacingAndGlyphs">GFP+ cells in PBL (%)</text>
<line x1="336.90" y1="266.00" x2="336.90" y2="300.90" stroke="#222" stroke-width="1.0" />
<rect x="331.60" y="301.20" width="10.70" height="39.70" fill="#2e2e2e" stroke="#222" stroke-width="0.6" />
<text transform="translate(333.60,353.80) scale(1.082,1)" x="-0.70" y="0" font-size="8.96" fill="#1a1a1a" stroke="#1a1a1a" stroke-width="0.14">B</text>
<line x1="365.30" y1="291.90" x2="365.30" y2="320.00" stroke="#222" stroke-width="1.0" />
<rect x="360.00" y="320.30" width="10.70" height="20.60" fill="#2e2e2e" stroke="#222" stroke-width="0.6" />
<text transform="translate(362.00,353.80) scale(0.946,1)" x="-0.14" y="0" font-size="8.96" fill="#1a1a1a" stroke="#1a1a1a" stroke-width="0.14">T</text>
<line x1="393.70" y1="293.40" x2="393.70" y2="320.90" stroke="#222" stroke-width="1.0" />
<rect x="388.40" y="321.20" width="10.70" height="19.70" fill="#2e2e2e" stroke="#222" stroke-width="0.6" />
<text transform="translate(385.40,353.80) scale(1.094,1)" x="-0.70" y="0" font-size="8.96" fill="#1a1a1a" stroke="#1a1a1a" stroke-width="0.14">My</text>
<line x1="433.00" y1="252.50" x2="433.00" y2="341.90" stroke="#2a2a2a" stroke-width="1.35" />
<line x1="433.00" y1="341.40" x2="518.50" y2="341.40" stroke="#2a2a2a" stroke-width="1.35" />
<text transform="translate(427.00,342.25) scale(1.004,1)" x="-0.22" y="0" font-size="6.97" fill="#1a1a1a" stroke="#1a1a1a" stroke-width="0.14">0</text>
<text transform="translate(423.00,325.75) scale(1.034,1)" x="-0.33" y="0" font-size="6.97" fill="#1a1a1a" stroke="#1a1a1a" stroke-width="0.14">20</text>
<text transform="translate(423.00,309.25) scale(1.004,1)" x="-0.11" y="0" font-size="6.97" fill="#1a1a1a" stroke="#1a1a1a" stroke-width="0.14">40</text>
<text transform="translate(423.00,292.75) scale(1.034,1)" x="-0.33" y="0" font-size="6.97" fill="#1a1a1a" stroke="#1a1a1a" stroke-width="0.14">60</text>
<text transform="translate(423.00,276.25) scale(1.019,1)" x="-0.22" y="0" font-size="6.97" fill="#1a1a1a" stroke="#1a1a1a" stroke-width="0.14">80</text>
<text transform="translate(419.80,259.75) scale(0.971,1)" x="-0.44" y="0" font-size="6.97" fill="#1a1a1a" stroke="#1a1a1a" stroke-width="0.14">100</text>
<text transform="translate(452.00,250.80) scale(1.141,1)" x="-0.64" y="0" font-size="8.25" fill="#1a1a1a" stroke="#1a1a1a" stroke-width="0.14">B-p-GFP-DIII</text>
<text transform="translate(419.6,298.5) rotate(-90)" font-size="7.9" text-anchor="middle" fill="#1a1a1a" stroke="#1a1a1a" stroke-width="0.12" textLength="82" lengthAdjust="spacingAndGlyphs">GFP+ cells in PBL (%)</text>
<line x1="447.30" y1="290.80" x2="447.30" y2="318.40" stroke="#222" stroke-width="1.0" />
<rect x="442.00" y="318.70" width="10.70" height="22.70" fill="#a0a0a0" stroke="#8e8e8e" stroke-width="0.6" />
<text transform="translate(444.00,353.80) scale(1.082,1)" x="-0.70" y="0" font-size="8.96" fill="#1a1a1a" stroke="#1a1a1a" stroke-width="0.14">B</text>
<text transform="translate(445.50,291.85) scale(0.928,1)" x="-0.15" y="0" font-size="9.60" fill="#1a1a1a" stroke="#1a1a1a" stroke-width="0.14">*</text>
<line x1="475.70" y1="336.10" x2="475.70" y2="339.20" stroke="#222" stroke-width="1.0" />
<rect x="470.40" y="339.50" width="10.70" height="1.90" fill="#a0a0a0" stroke="#8e8e8e" stroke-width="0.6" />
<text transform="translate(472.40,353.80) scale(0.946,1)" x="-0.14" y="0" font-size="8.96" fill="#1a1a1a" stroke="#1a1a1a" stroke-width="0.14">T</text>
<text transform="translate(471.90,334.64) scale(1.056,1)" x="-0.15" y="0" font-size="9.87" fill="#1a1a1a" stroke="#1a1a1a" stroke-width="0.14">**</text>
<line x1="504.10" y1="313.50" x2="504.10" y2="330.30" stroke="#222" stroke-width="1.0" />
<rect x="498.80" y="330.60" width="10.70" height="10.80" fill="#a0a0a0" stroke="#8e8e8e" stroke-width="0.6" />
<text transform="translate(495.80,353.80) scale(1.094,1)" x="-0.70" y="0" font-size="8.96" fill="#1a1a1a" stroke="#1a1a1a" stroke-width="0.14">My</text>
<text transform="translate(502.80,314.45) scale(0.899,1)" x="-0.15" y="0" font-size="9.60" fill="#1a1a1a" stroke="#1a1a1a" stroke-width="0.14">*</text>
</svg>
</body></html>
